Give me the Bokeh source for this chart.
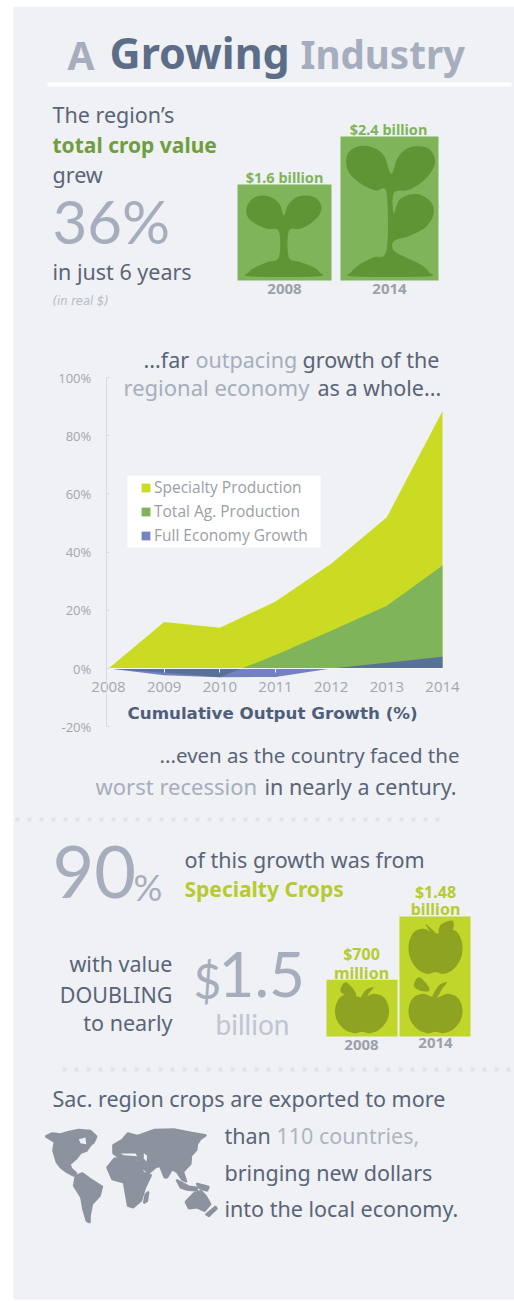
from bokeh.embed import file_html
from bokeh.resources import INLINE
from bokeh.models import Range1d, LinearAxis, FixedTicker, PrintfTickFormatter, Legend, LegendItem
from bokeh.plotting import figure
from bokeh.core.properties import value

# ---- series ----
years = [2008, 2009, 2010, 2011, 2012, 2013, 2014]
specialty = [0, 16, 14, 23, 36, 52, 88.5]
total_ag = [0, -1.5, -3, 4.6, 13, 21.6, 35.4]
full_economy = [0, -2.3, -3, -2.9, 0, 2, 4]
y_ticks = [-20, 0, 20, 40, 60, 80, 100]

crop_years = [2008, 2014]
crop_value = [1.6, 2.4]            # $ billion
specialty_value = [0.70, 1.48]     # $ billion

W, H = 514, 1301
PAGE = "#eff1f5"
DARK = "#5a6478"
GREY = "#a6aebd"
GREEN = "#7fb45a"
DGREEN = "#5f9535"
LIME = "#c0d62a"
OLIVE = "#8ea322"
BODY = "Noto Sans"
RAISE = 0.42   # lifts text so the requested y is its visual baseline

# chart scale: 2008 sits at x=108, 2014 at x=442, 100% at y=377, 0% at y=668
px_year = (442 - 108) / 6
px_pct = (668 - 377) / 100
x0 = 2008 - 108 / px_year
x1 = x0 + W / px_year
y1 = 668 / px_pct
y0 = y1 - H / px_pct

p = figure(width=W, height=H, output_backend="svg", toolbar_location=None,
           x_range=Range1d(x0, x1), y_range=Range1d(y0, y1),
           x_axis_type=None, y_axis_type=None,
           min_border=0, min_border_left=0, min_border_right=0, min_border_top=0, min_border_bottom=0,
           border_fill_color="white", background_fill_color="white", outline_line_color=None)
p.grid.visible = False

# page-space range for the layout, and one value range per pictogram group
p.extra_x_ranges["px"] = Range1d(0, W)
p.extra_y_ranges["px"] = Range1d(H, 0)
crop_base, crop_scale = 280, 60
p.extra_y_ranges["crop"] = Range1d(-(H - crop_base) / crop_scale, crop_base / crop_scale)
spec_base, spec_scale = 1036, 81
p.extra_y_ranges["spec"] = Range1d(-(H - spec_base) / spec_scale, spec_base / spec_scale)


def smooth(pts, steps=6):
    # closed Catmull-Rom curve through the outline points
    out = []
    n = len(pts)
    for i in range(n):
        p0, p1, p2, p3 = pts[i - 1], pts[i], pts[(i + 1) % n], pts[(i + 2) % n]
        for k in range(steps):
            t = k / steps
            out.append(tuple(0.5 * (2 * b + (c - a) * t + (2 * a - 5 * b + 4 * c - d) * t ** 2
                                    + (3 * b - a - 3 * c + d) * t ** 3)
                             for a, b, c, d in zip(p0, p1, p2, p3)))
    return out


def zoom_poly(pts, color, ox=0, oy=0, curved=True, grow=0):
    # outlines are kept at triple scale for finer control
    pts = smooth(pts) if curved else pts
    p.patch([a / 3 + ox for a, _ in pts], [b / 3 + oy for _, b in pts], x_range_name="px", y_range_name="px",
            fill_color=color, line_color=color if grow else None, line_width=grow or 1)


def txt(x, y, s, color=DARK, size=21.5, font=BODY, align="left", style="normal"):
    p.text([x], [y - RAISE * size], text=[s], x_range_name="px", y_range_name="px", text_color=color,
           text_font=value(font), text_font_size=f"{size}px", text_align=align,
           text_baseline="alphabetic", text_font_style=style)


# panel, rule and dotted separators
p.quad(left=[13], right=[W], top=[6], bottom=[1299], x_range_name="px", y_range_name="px",
       fill_color=PAGE, line_color=None)
p.line([47, 511], [84, 84], x_range_name="px", y_range_name="px", line_color="white", line_width=4)
for xa, xb, yy in [(15, 442, 819), (62, 514, 1069)]:
    p.line([xa, xb], [yy, yy], x_range_name="px", y_range_name="px", line_color="#e0e3e8",
           line_width=4, line_dash="4 8")

# heading
txt(67, 70, "A", GREY, 39, style="bold")
txt(109, 70, "Growing", "#5d6d88", 43, style="bold")
txt(300, 70, "Industry", GREY, 38.5, style="bold")

# crop value block
txt(52, 123, "The region’s")
txt(52, 153, "total crop value", "#6f9e3c", 21, style="bold")
txt(52, 183, "grew")
txt(52, 246, "36%", GREY, 60, "Lato")
txt(52, 280, "in just 6 years")
txt(52, 305, "(in real $)", "#b5bac4", 11.5, "DejaVu Sans", style="italic")

p.vbar(x=[284, 389], top=crop_value, bottom=0, width=[94, 98], x_range_name="px", y_range_name="crop",
       fill_color=GREEN, line_color=None)
p.text([284, 388], crop_value, text=[f"${v} billion" for v in crop_value], x_range_name="px",
       y_range_name="crop", y_offset=-8, text_color=GREEN, text_font=value(BODY), text_font_size="14.5px",
       text_font_style="bold", text_align="center", text_baseline="alphabetic")
for cx, yr in zip([284, 389], crop_years):
    txt(cx, 295, str(yr), "#9ba0aa", 15, align="center", style="bold")

small_sprout = [(850,645),(838,612),(815,592),(785,585),(755,595),(738,622),(742,650),(765,670),(800,685),(835,692),
                (835,770),(800,785),(765,800),(745,815),(750,828),(950,828),(957,815),(935,798),(900,785),(865,770),
                (865,692),(900,685),(935,665),(958,640),(962,615),(945,592),(915,585),(885,592),(862,615)]
big_sprout = [(1172,520),(1150,465),(1115,440),(1075,437),(1045,455),(1037,485),(1048,520),(1085,552),(1125,570),(1158,577),
              (1158,750),(1120,770),(1080,790),(1052,815),(1060,828),(1280,828),(1285,815),(1265,795),(1215,770),(1180,750),
              (1180,722),(1230,705),(1275,680),(1298,645),(1295,610),(1265,585),(1230,582),(1195,600),(1180,640),
              (1180,577),(1225,568),(1270,540),(1300,500),(1302,470),(1285,445),(1250,437),(1215,447),(1190,475)]
zoom_poly(small_sprout, DGREEN)
zoom_poly(big_sprout, DGREEN)

# chart headline
txt(143, 368, "...far", DARK)
txt(195, 368, "outpacing", GREY)
txt(302, 368, "growth of the", DARK)
txt(123, 396, "regional economy", GREY, 22)
txt(317, 396, "as a whole...", DARK)

# areas all measured from the zero line
r_spec = p.varea(years, 0, specialty, fill_color="#cbdb24")
r_ag = p.varea(years, 0, total_ag, fill_color=GREEN)
r_full = p.varea(years, 0, full_economy, fill_color="#495baf", fill_alpha=0.75)

yax = LinearAxis(fixed_location=2007.96, ticker=FixedTicker(ticks=y_ticks), bounds=(-20, 100),
                 formatter=PrintfTickFormatter(format="%d%%"),
                 axis_line_color="#d8dbe1", major_tick_line_color="#d8dbe1", major_tick_in=3, major_tick_out=0,
                 minor_tick_line_color=None, major_label_text_color="#a3a7ad",
                 major_label_text_font="Open Sans", major_label_text_font_size="13px", major_label_standoff=15)
p.add_layout(yax, "left")
xax = LinearAxis(fixed_location=0, ticker=FixedTicker(ticks=years), bounds=(2008, 2014),
                 axis_line_color="#f6f7f9", major_tick_line_color="#f6f7f9", major_tick_in=0, major_tick_out=4,
                 minor_tick_line_color=None, major_label_text_color="#a3a7ad",
                 major_label_text_font="Open Sans", major_label_text_font_size="15px", major_label_standoff=9)
xax.formatter = PrintfTickFormatter(format="%d")
p.add_layout(xax, "below")

p.quad(left=[127], right=[320], top=[475], bottom=[547], x_range_name="px", y_range_name="px",
       fill_color="white", line_color=None)
legend = Legend(items=[LegendItem(label="Specialty Production", renderers=[r_spec]),
                       LegendItem(label="Total Ag. Production", renderers=[r_ag]),
                       LegendItem(label="Full Economy Growth", renderers=[r_full])],
                location=(140, H - 546), background_fill_alpha=0,
                border_line_color=None, label_text_font="Open Sans", label_text_font_size="15.5px",
                label_text_color="#9a9ea6", glyph_width=11, glyph_height=11, spacing=2,
                padding=4, margin=0, label_standoff=3, label_height=15)
p.add_layout(legend)

txt(127, 720, "Cumulative Output Growth (%)", "#4e5e7c", 16.7, "DejaVu Sans", style="bold")

txt(159, 763, "...even as the country faced the", size=20.5)
txt(95, 795, "worst recession", GREY, 22)
txt(264, 795, "in nearly a century.")

# specialty block
txt(52, 902, "90", GREY, 72, "Lato")
txt(133, 902, "%", GREY, 36, "Lato")
txt(184, 868, "of this growth was from")
txt(184, 897, "Specialty Crops", "#b7cb2e", 21, style="bold")
txt(172, 972, "with value", align="right")
txt(172, 1003, "DOUBLING", align="right")
txt(172, 1031, "to nearly", align="right")
txt(193, 1000, "$", GREY, 48, "Lato")
txt(218, 1000, "1.5", GREY, 62, "Lato")
txt(252, 1035, "billion", "#bfc5d2", 28, "Lato", align="center")

p.vbar(x=[361.5, 434.5], top=specialty_value, bottom=0, width=[71, 71], x_range_name="px", y_range_name="spec",
       fill_color=LIME, line_color=None)
for cx, yb, s in [(361, 960, "$700"), (361, 979, "million"), (435, 898, "$1.48"), (435, 915, "billion")]:
    txt(cx, yb, s, "#b7cb2e", 16, align="center", style="bold")
for cx, yb, yr in [(361, 1051, 2008), (435, 1049, 2014)]:
    txt(cx, yb, str(yr), "#9ba0aa", 15, align="center", style="bold")

apple_body = [(1305,400),(1270,385),(1240,395),(1225,430),(1228,470),(1250,505),(1280,520),(1305,515),(1330,520),
              (1360,505),(1382,470),(1385,430),(1370,395),(1340,385)]
apple_stem = [(1275,372),(1285,378),(1312,405),(1298,405)]
apple_leaf = [(1315,395),(1322,372),(1355,360),(1358,385),(1335,403)]
low_body = [(1305,592),(1270,580),(1240,590),(1225,620),(1228,655),(1250,685),(1280,698),(1305,694),(1330,698),
            (1360,685),(1382,655),(1385,620),(1370,590),(1340,580)]
low_stem = [(1340,545),(1315,555),(1295,590),(1310,590),(1325,565)]
low_leaf = [(1255,530),(1282,555),(1285,572),(1258,570),(1240,555)]
for shape in (apple_body, apple_stem, apple_leaf, low_body, low_stem, low_leaf):
    zoom_poly(shape, OLIVE, oy=800)
zoom_poly(low_body, OLIVE, ox=-73.5, oy=800)
for shape in (low_stem, low_leaf):
    zoom_poly(shape, OLIVE, ox=-73.5, oy=805)

# export block
txt(52, 1107, "Sac. region crops are exported to more")
txt(224, 1144, "than")
txt(276, 1144, "110 countries,", "#aeb4c0")
txt(224, 1181, "bringing new dollars")
txt(224, 1217, "into the local economy.")

# world map silhouette
MAP = "#8d939e"
land = [
    [(15,42),(35,32),(60,35),(85,28),(115,22),(150,25),(168,42),(160,60),(150,68),(138,85),(120,92),(108,108),(88,125),
     (92,138),(108,152),(100,160),(78,148),(60,135),(48,118),(38,85),(42,58)],
    [(105,160),(125,152),(150,170),(185,192),(178,220),(155,245),(148,280),(148,300),(138,295),(128,260),(122,225),(100,190)],
    [(218,68),(245,52),(262,32),(290,40),(340,22),(400,20),(450,30),(497,38),(480,50),(470,65),(468,82),(452,100),
     (450,125),(428,148),(438,178),(425,172),(410,150),(395,140),(380,165),(372,165),(358,130),(345,135),(325,152),
     (305,135),(295,112),(262,105),(235,105),(218,92)],
    [(200,135),(222,108),(260,106),(295,118),(308,150),(332,158),(314,195),(302,235),(278,255),(262,250),(255,210),(250,180),(215,170)],
    [(435,238),(460,212),(482,205),(497,222),(510,245),(492,266),(470,255),(445,258)],
    [(315,215),(324,208),(320,235),(310,242)],
    [(408,172),(445,192),(470,195),(470,205),(440,202),(420,195)],
    [(468,183),(505,193),(500,205),(478,198)],
    [(496,276),(525,252),(529,258),(505,281)],
]
water = [
    [(115,50),(135,45),(137,65),(120,62)],
    [(240,93),(285,93),(290,101),(250,98)],
    [(310,92),(320,100),(318,118),(310,108)],
]
for shape in land:
    zoom_poly(shape, MAP, ox=40, oy=1122, curved=False, grow=2)
for shape in water:
    zoom_poly(shape, PAGE, ox=40, oy=1122, curved=False)

out = open("out.html", "w")
out.write(file_html(p, INLINE))
out.close()
